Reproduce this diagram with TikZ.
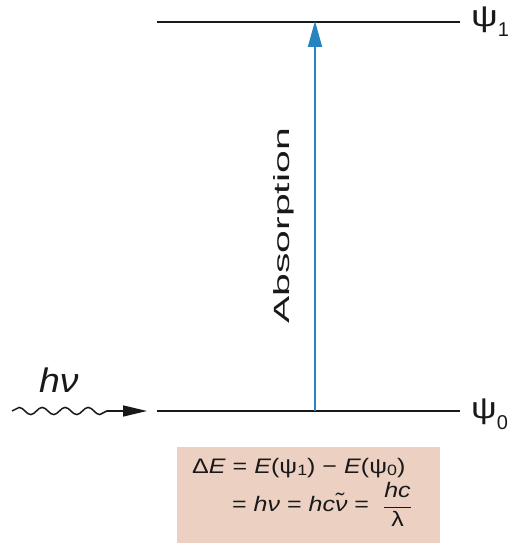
\documentclass[tikz,border=0pt]{standalone}
\usepackage{fontspec}
\setmainfont{Liberation Sans}
\usetikzlibrary{decorations.pathmorphing,arrows.meta}
\definecolor{absblue}{RGB}{40,132,190}
\definecolor{boxfill}{RGB}{236,209,194}
\definecolor{inkc}{RGB}{25,25,25}
\begin{document}
\begin{tikzpicture}[x=1pt,y=1pt,
  levelline/.style={line width=2.6pt,inkc},
  absarrow/.style={line width=1.9pt,absblue,-{Triangle[length=26pt,width=14pt]}},
  wavy/.style={line width=1.5pt,inkc,decorate,decoration={snake,amplitude=3.6pt,segment length=23pt}},
  photonhead/.style={line width=1.5pt,inkc,-{Triangle[length=24pt,width=11pt]}},
  statelabel/.style={inner sep=0pt,text=inkc,font=\fontsize{30}{30}\selectfont},
  eqtext/.style={inner sep=0pt,text=inkc,font=\fontsize{21}{24}\selectfont},
  eqbox/.style={fill=boxfill,draw=none,inner sep=0pt,minimum width=263pt,minimum height=96pt}
]
\useasboundingbox (0,0) rectangle (515,543);
% energy levels
\coordinate (g1L) at (157,521);
\coordinate (g1R) at (460,521);
\coordinate (g0L) at (157,132);
\coordinate (g0R) at (460,132);
\draw[levelline] (g1L) -- (g1R);
\draw[levelline] (g0L) -- (g0R);
% absorption arrow
\coordinate (a0) at (315,132);
\coordinate (a1) at (315,522);
\draw[absarrow] (a0) -- (a1);
\node[rotate=90,inner sep=0pt,text=inkc] (abslabel) at (284,317)
  {\scalebox{1.86}[1]{\fontsize{22}{22}\selectfont Absorption}};
% photon
\coordinate (ph0) at (12,132);
\coordinate (ph1) at (107,132);
\coordinate (ph2) at (147,132);
\draw[wavy] (ph0) -- (ph1);
\draw[photonhead] (ph1) -- (ph2);
\node[inner sep=0pt,text=inkc,anchor=base west] (hnu) at (39,150)
  {\scalebox{1.1}[1]{\fontsize{34}{34}\selectfont\itshape hν}};
% state labels
\node[statelabel,anchor=base west] (psi1) at (471,516)
  {\scalebox{1.25}[1]{ψ}\raisebox{-10pt}{\fontsize{20}{20}\selectfont 1}};
\node[statelabel,anchor=base west] (psi0) at (471,124)
  {\scalebox{1.2}[1]{ψ}\raisebox{-11pt}{\fontsize{20}{20}\selectfont 0}};
% equation box
\node[eqbox,anchor=south west] (box) at (177,0) {};
\node[eqtext,anchor=base west] (eq1) at (192,69)
  {\scalebox{1.19}[1]{Δ\textit{E} = \textit{E}(ψ\raisebox{-2pt}{\fontsize{15}{15}\selectfont 1}) − \textit{E}(ψ\raisebox{-2pt}{\fontsize{15}{15}\selectfont 0})}};
\node[eqtext,anchor=base west] (eq2) at (232,31)
  {\scalebox{1.19}[1]{= \textit{hν} = \textit{hcν̃} = \ $\displaystyle\frac{\mbox{\itshape hc}}{\mbox{λ}}$}};
\end{tikzpicture}
\end{document}
